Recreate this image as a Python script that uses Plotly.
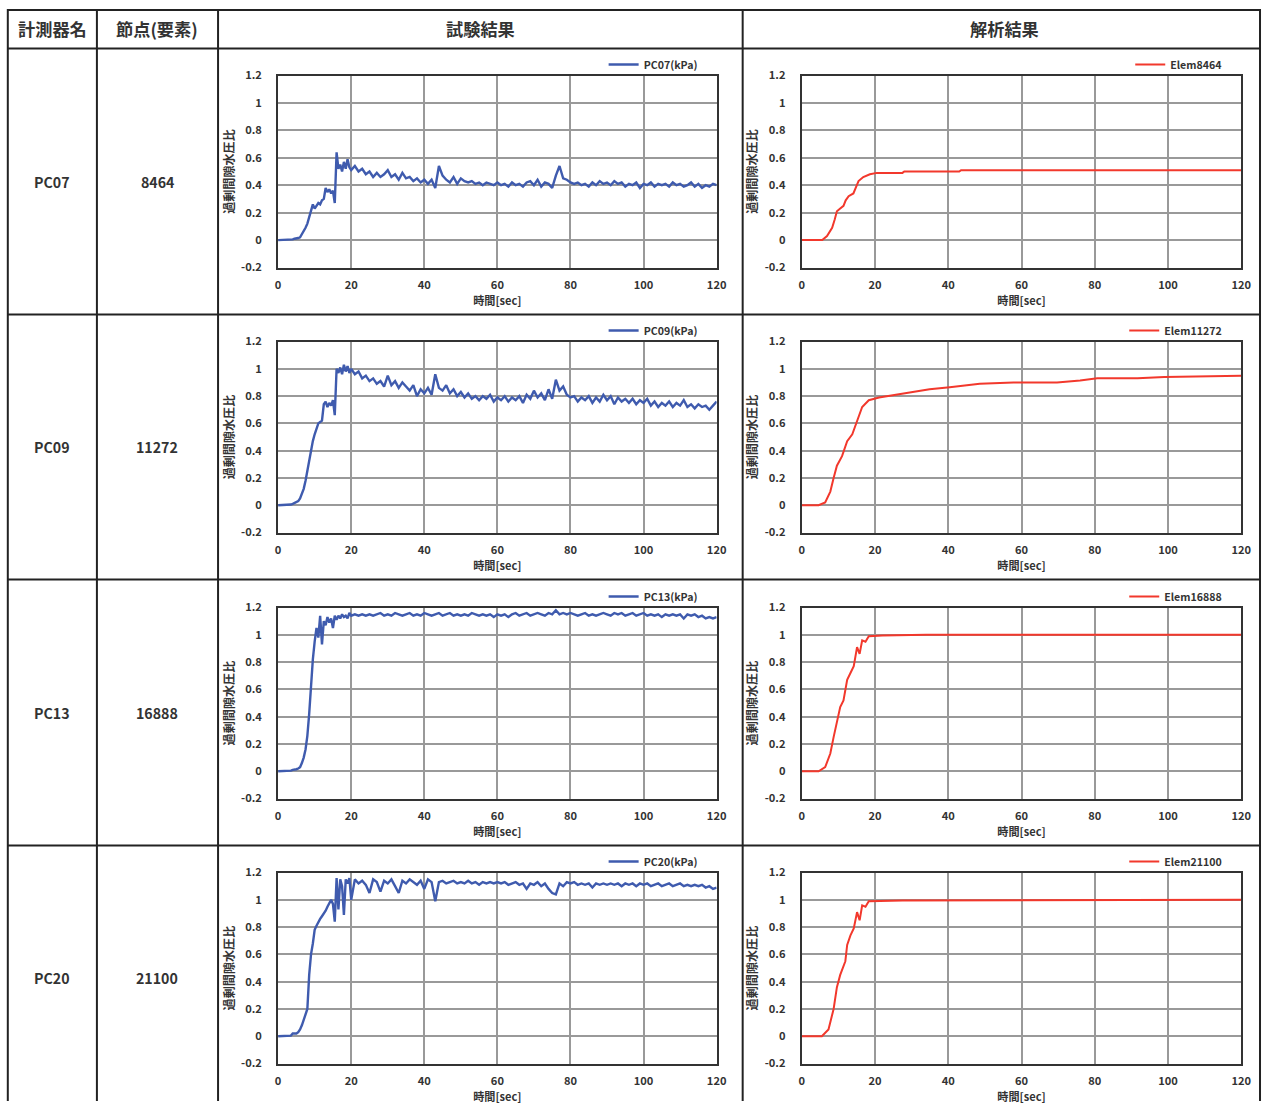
import plotly.graph_objects as go

W, H = 1271, 1108

# ---------------- data ----------------
instruments = ["PC07", "PC09", "PC13", "PC20"]
nodes = ["8464", "11272", "16888", "21100"]
test_names = ["PC07(kPa)", "PC09(kPa)", "PC13(kPa)", "PC20(kPa)"]
anal_names = ["Elem8464", "Elem11272", "Elem16888", "Elem21100"]
headers = ["計測器名", "節点(要素)", "試験結果", "解析結果"]

x_ticks = [0, 20, 40, 60, 80, 100, 120]
y_ticks = [-0.2, 0, 0.2, 0.4, 0.6, 0.8, 1.0, 1.2]
y_tick_labels = ["-0.2", "0", "0.2", "0.4", "0.6", "0.8", "1", "1.2"]

# time grid of the measured records (0-20 s every 0.5 s, then every 1 s)
t_test = [i * 0.5 for i in range(41)] + list(range(21, 121))

pc07 = [0, 0, 0, 0, 0, 0, 0, 0.005, 0.005, 0.01, 0.01, 0.015, 0.02, 0.04, 0.06, 0.09,
        0.12, 0.17, 0.23, 0.26, 0.23, 0.25, 0.27, 0.26, 0.29, 0.30, 0.38, 0.35, 0.37, 0.34,
        0.36, 0.27, 0.64, 0.52, 0.55, 0.50, 0.57, 0.52, 0.59, 0.53, 0.51,
        0.54, 0.50, 0.52, 0.48, 0.50, 0.46, 0.49, 0.46, 0.48, 0.51,
        0.46, 0.48, 0.44, 0.49, 0.45, 0.46, 0.43, 0.45, 0.42, 0.44,
        0.41, 0.44, 0.38, 0.54, 0.47, 0.44, 0.42, 0.46, 0.41, 0.45,
        0.43, 0.42, 0.43, 0.41, 0.42, 0.40, 0.42, 0.41, 0.40, 0.42,
        0.40, 0.41, 0.39, 0.42, 0.40, 0.41, 0.39, 0.42, 0.43, 0.40,
        0.44, 0.39, 0.42, 0.41, 0.38, 0.47, 0.54, 0.45, 0.44, 0.42,
        0.41, 0.42, 0.40, 0.41, 0.39, 0.42, 0.40, 0.43, 0.41, 0.42,
        0.40, 0.43, 0.41, 0.42, 0.39, 0.41, 0.40, 0.42, 0.38, 0.41,
        0.40, 0.42, 0.39, 0.41, 0.40, 0.41, 0.39, 0.42, 0.40, 0.41,
        0.39, 0.40, 0.42, 0.39, 0.41, 0.38, 0.40, 0.39, 0.41, 0.40]

pc09 = [0, 0, 0, 0, 0, 0, 0.005, 0.005, 0.01, 0.015, 0.02, 0.03, 0.05, 0.08, 0.12, 0.18,
        0.25, 0.33, 0.42, 0.47, 0.52, 0.56, 0.60, 0.61, 0.62, 0.74, 0.76, 0.72, 0.75, 0.73,
        0.77, 0.66, 1.00, 0.97, 1.01, 0.96, 1.03, 0.98, 1.02, 0.97, 1.00,
        0.96, 0.98, 0.93, 0.95, 0.91, 0.93, 0.89, 0.91, 0.87, 0.95,
        0.88, 0.91, 0.86, 0.90, 0.87, 0.84, 0.88, 0.80, 0.85, 0.82,
        0.86, 0.81, 0.96, 0.86, 0.84, 0.88, 0.82, 0.85, 0.80, 0.83,
        0.79, 0.82, 0.78, 0.80, 0.77, 0.80, 0.78, 0.81, 0.76, 0.79,
        0.77, 0.80, 0.76, 0.79, 0.77, 0.80, 0.75, 0.81, 0.78, 0.84,
        0.79, 0.82, 0.77, 0.85, 0.78, 0.92, 0.84, 0.87, 0.81, 0.79,
        0.80, 0.76, 0.79, 0.77, 0.80, 0.75, 0.79, 0.76, 0.81, 0.77,
        0.80, 0.74, 0.79, 0.76, 0.78, 0.75, 0.78, 0.74, 0.77, 0.75,
        0.78, 0.73, 0.76, 0.72, 0.75, 0.73, 0.76, 0.72, 0.75, 0.73,
        0.77, 0.72, 0.74, 0.71, 0.74, 0.72, 0.73, 0.70, 0.73, 0.76]

pc13 = [0, 0, 0, 0, 0, 0, 0, 0.005, 0.01, 0.01, 0.015, 0.02, 0.03, 0.06, 0.10, 0.16,
        0.26, 0.42, 0.65, 0.82, 0.95, 1.05, 0.98, 1.14, 0.93, 1.10, 1.07, 1.13, 1.09, 1.12,
        1.05, 1.14, 1.11, 1.14, 1.12, 1.15, 1.13, 1.14, 1.12, 1.16, 1.14,
        1.15, 1.14, 1.15, 1.14, 1.15, 1.14, 1.15, 1.16, 1.14, 1.15,
        1.14, 1.16, 1.15, 1.14, 1.15, 1.16, 1.14, 1.15, 1.14, 1.16,
        1.15, 1.14, 1.15, 1.16, 1.14, 1.15, 1.16, 1.14, 1.15, 1.14,
        1.15, 1.14, 1.16, 1.15, 1.14, 1.15, 1.14, 1.15, 1.13, 1.15,
        1.14, 1.15, 1.13, 1.15, 1.16, 1.14, 1.15, 1.16, 1.14, 1.15,
        1.16, 1.15, 1.14, 1.16, 1.15, 1.18, 1.15, 1.16, 1.15, 1.16,
        1.15, 1.14, 1.15, 1.16, 1.14, 1.15, 1.14, 1.15, 1.16, 1.15,
        1.14, 1.16, 1.15, 1.16, 1.14, 1.15, 1.16, 1.14, 1.15, 1.16,
        1.14, 1.15, 1.14, 1.15, 1.13, 1.15, 1.14, 1.15, 1.14, 1.15,
        1.12, 1.15, 1.14, 1.15, 1.13, 1.14, 1.12, 1.13, 1.12, 1.13]

pc20 = [0, 0, 0, 0, 0, 0, 0, 0.005, 0.02, 0.02, 0.02, 0.03, 0.05, 0.08, 0.12, 0.16,
        0.20, 0.45, 0.60, 0.68, 0.78, 0.81, 0.84, 0.86, 0.88, 0.90, 0.92, 0.95, 0.98, 1.00,
        0.97, 0.84, 1.16, 0.93, 1.15, 1.10, 0.89, 1.15, 1.12, 1.16, 1.00,
        1.15, 1.12, 1.14, 1.11, 1.05, 1.15, 1.13, 1.06, 1.14, 1.12,
        1.15, 1.10, 1.05, 1.14, 1.12, 1.15, 1.13, 1.11, 1.14, 1.08,
        1.15, 1.13, 0.99, 1.13, 1.14, 1.12, 1.13, 1.14, 1.12, 1.13,
        1.12, 1.14, 1.12, 1.13, 1.11, 1.13, 1.12, 1.13, 1.12, 1.13,
        1.12, 1.13, 1.11, 1.12, 1.13, 1.11, 1.12, 1.08, 1.12, 1.11,
        1.13, 1.10, 1.12, 1.08, 1.05, 1.04, 1.12, 1.10, 1.13, 1.12,
        1.13, 1.11, 1.12, 1.11, 1.12, 1.09, 1.12, 1.11, 1.12, 1.11,
        1.12, 1.11, 1.12, 1.10, 1.12, 1.11, 1.12, 1.10, 1.12, 1.11,
        1.12, 1.10, 1.11, 1.12, 1.10, 1.11, 1.12, 1.10, 1.11, 1.12,
        1.10, 1.11, 1.10, 1.11, 1.10, 1.11, 1.09, 1.10, 1.08, 1.09]

# analysis (simulation) results
t_e8464 = [0, 5.6, 6.9, 8.3, 9.0, 9.6, 10.5, 11.4, 12.0, 12.8, 14.1, 14.8, 15.5, 16.8, 18.6, 20.5, 27.5, 28.0, 43.0, 43.5, 120]
v_e8464 = [0, 0, 0.03, 0.09, 0.15, 0.21, 0.23, 0.25, 0.29, 0.32, 0.34, 0.38, 0.43, 0.46, 0.48, 0.49, 0.49, 0.50, 0.50, 0.51, 0.51]

t_e11272 = [0, 4.6, 6.4, 7.8, 8.7, 9.6, 11.0, 12.4, 13.8, 15.1, 16.5, 18.3, 21.1, 25.7, 30.3, 34.9, 40.4, 48.6, 57.8, 69.7, 76.0, 80.7, 91.7, 99.0, 120]
v_e11272 = [0, 0, 0.02, 0.10, 0.20, 0.29, 0.36, 0.47, 0.52, 0.62, 0.72, 0.77, 0.79, 0.81, 0.83, 0.85, 0.865, 0.89, 0.90, 0.90, 0.915, 0.93, 0.93, 0.94, 0.95]

t_e16888 = [0, 4.6, 6.4, 7.8, 8.7, 9.6, 10.5, 11.4, 12.4, 13.3, 14.2, 15.1, 15.8, 16.5, 17.4, 18.3, 22.0, 34.0, 120]
v_e16888 = [0, 0, 0.03, 0.13, 0.25, 0.37, 0.47, 0.52, 0.67, 0.72, 0.77, 0.91, 0.86, 0.96, 0.95, 0.99, 0.995, 1.0, 1.0]

t_e21100 = [0, 5.5, 7.3, 8.7, 9.6, 10.5, 11.9, 12.4, 13.3, 14.2, 15.1, 15.8, 16.5, 17.4, 18.3, 27.5, 120]
v_e21100 = [0, 0, 0.05, 0.20, 0.36, 0.45, 0.55, 0.67, 0.74, 0.79, 0.91, 0.85, 0.96, 0.95, 0.99, 0.995, 1.0]

test_series = [pc07, pc09, pc13, pc20]
anal_series = [(t_e8464, v_e8464), (t_e11272, v_e11272), (t_e16888, v_e16888), (t_e21100, v_e21100)]

# ---------------- layout geometry (target pixels) ----------------
BLUE = "#3F5BAE"
RED = "#F2382C"
TXT = "#333333"
FONT = "Noto Sans CJK JP"

col_x = [8, 97, 218, 742, 1266]
row_y = [7, 48, 314, 579, 845]
left_dom = (278, 716)
right_dom = (801, 1240)
plot_rows = [(75, 267), (341, 532), (607, 798), (872, 1063)]

# the photographed page is slightly shrunk/offset; compensate
AX, SX = 3.2, 0.9886
AY, SY = 8.5, 0.9855
FS = 1 / SX


def px(x):
    v = (x - AX) / SX / W
    return min(max(v, 0.0), 1.0)


def py(y):
    v = 1 - (y - AY) / SY / H
    return min(max(v, 0.0), 1.0)


def fs(s):
    return round(s * FS, 1)


fig = go.Figure()
layout = dict(
    width=W, height=H, margin=dict(l=0, r=0, t=0, b=0),
    paper_bgcolor="white", plot_bgcolor="white",
    font=dict(family=FONT, color=TXT, size=fs(11)),
    showlegend=True,
)

axis_common = dict(
    showline=True, mirror=True, linecolor="#333333", linewidth=2,
    showgrid=True, gridcolor="#999999", gridwidth=1.6,
    zeroline=False, ticks="", fixedrange=True,
    tickfont=dict(family=FONT, size=fs(11), color=TXT, weight="bold"),
)

k = 0
for r in range(4):
    top, bot = plot_rows[r]
    for c in range(2):
        k += 1
        sfx = "" if k == 1 else str(k)
        dom = left_dom if c == 0 else right_dom
        layout["xaxis" + sfx] = dict(
            axis_common, domain=[px(dom[0]), px(dom[1])], range=[0, 120],
            tickvals=x_ticks, anchor="y" + sfx, ticklabelstandoff=6,
            title=dict(text="時間[sec]", standoff=2,
                       font=dict(family=FONT, size=fs(11), color=TXT, weight="bold")),
        )
        layout["yaxis" + sfx] = dict(
            axis_common, domain=[py(bot), py(top)], range=[-0.2, 1.2],
            tickvals=y_ticks, ticktext=y_tick_labels, anchor="x" + sfx,
            ticklabelstandoff=12,
            title=dict(text="過剰間隙水圧比", standoff=4,
                       font=dict(family=FONT, size=fs(12), color=TXT, weight="bold")),
        )
        lname = "legend" if k == 1 else "legend" + str(k)
        layout[lname] = dict(
            x=px(dom[1] - 14), xanchor="right", y=py(top - 11), yanchor="middle",
            bgcolor="rgba(0,0,0,0)", borderwidth=0, itemwidth=30,
            font=dict(family=FONT, size=fs(10.5), color=TXT, weight="bold"),
            tracegroupgap=0,
        )
        if c == 0:
            fig.add_trace(go.Scatter(
                x=t_test, y=test_series[r], mode="lines", name=test_names[r],
                line=dict(color=BLUE, width=2.4), xaxis="x" + sfx, yaxis="y" + sfx,
                legend=lname))
        else:
            tt, vv = anal_series[r]
            fig.add_trace(go.Scatter(
                x=tt, y=vv, mode="lines", name=anal_names[r],
                line=dict(color=RED, width=2), xaxis="x" + sfx, yaxis="y" + sfx,
                legend=lname))

# table lines
shapes = []
for x in col_x:
    xx = px(x)
    if xx >= 1.0:
        xx = 1 - 1.0 / W
    shapes.append(dict(type="line", xref="paper", yref="paper",
                       x0=xx, x1=xx, y0=py(row_y[0]), y1=0,
                       line=dict(color="#222222", width=2)))
for y in row_y:
    yy = py(y)
    if yy >= 1.0:
        yy = 1 - 1.0 / H
    shapes.append(dict(type="line", xref="paper", yref="paper",
                       x0=px(col_x[0]), x1=min(px(col_x[-1]), 1 - 1.0 / W), y0=yy, y1=yy,
                       line=dict(color="#222222", width=2)))
layout["shapes"] = shapes

annotations = []
for i, h in enumerate(headers):
    annotations.append(dict(
        text=h, xref="paper", yref="paper",
        x=px((col_x[i] + col_x[i + 1]) / 2), y=py(28), xanchor="center", yanchor="middle",
        showarrow=False, font=dict(family=FONT, size=fs(17), color=TXT, weight="bold")))
for r in range(4):
    yc = (row_y[r + 1] + (row_y[r + 2] if r + 2 < len(row_y) else 1110)) / 2
    annotations.append(dict(
        text=instruments[r], xref="paper", yref="paper",
        x=px((col_x[0] + col_x[1]) / 2), y=py(yc), xanchor="center", yanchor="middle",
        showarrow=False, font=dict(family=FONT, size=fs(14), color=TXT, weight="bold")))
    annotations.append(dict(
        text=nodes[r], xref="paper", yref="paper",
        x=px((col_x[1] + col_x[2]) / 2), y=py(yc), xanchor="center", yanchor="middle",
        showarrow=False, font=dict(family=FONT, size=fs(14), color=TXT, weight="bold")))
layout["annotations"] = annotations

fig.update_layout(**layout)
fig.write_html(
    "out.html",
    config={"displayModeBar": False},
    post_script="document.documentElement.style.margin='0';document.body.style.margin='0';"
                "document.body.style.padding='0';document.documentElement.style.overflow='hidden';"
                "document.body.style.overflow='hidden';",
)
